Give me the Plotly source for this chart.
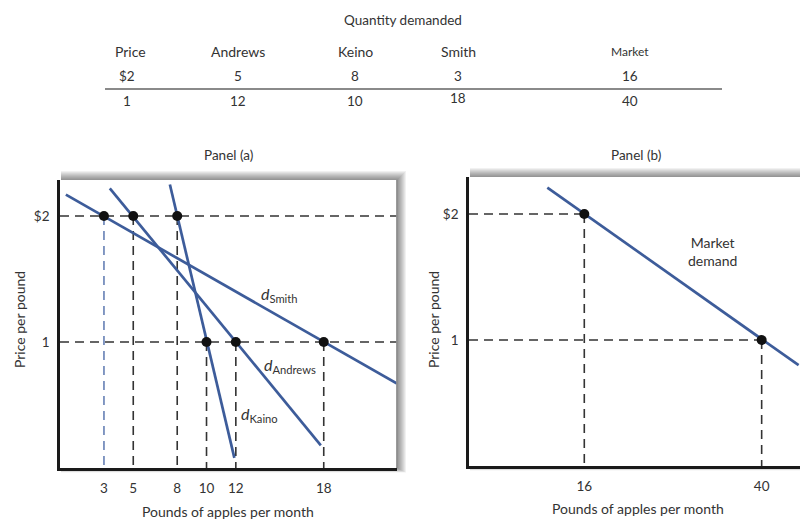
import plotly.graph_objects as go

# The page body has an 8px margin, so the figure is drawn 8px in from the corner.
OFF = 8
W, H = 808 - OFF, 520 - OFF
def px(x):
    return (x - OFF) / W
def py(y):
    return 1 - (y - OFF) / H

# ---------------- data ----------------
prices = [2, 1]
andrews = [5, 12]
keino = [8, 10]
smith = [3, 18]
market = [16, 40]

table_cols = ["Price", "Andrews", "Keino", "Smith", "Market"]
row_top = ["$2", "5", "8", "3", "16"]
row_bottom = ["1", "12", "10", "18", "40"]

# drawn extent of the demand curves (quantity, price)
smith_line_q = [0.4, 23.0]
smith_line_p = [2.17, 0.67]
andrews_line_q = [3.4, 17.8]
andrews_line_p = [2.22, 0.18]
kaino_line_q = [7.5, 11.9]
kaino_line_p = [2.25, 0.08]
market_line_q = [11.0, 45.0]
market_line_p = [2.21, 0.80]

a_ticks = [3, 5, 8, 10, 12, 18]
b_ticks = [16, 40]
price_ticktext = ["$2", "1"]

# ---------------- style ----------------
FONT = "Lato"
TXT = "#333333"
BLUE = "#3d5c9a"
DASH = "#333333"
DASHPAT = "9px,6px"

fig = go.Figure()

# ---- Panel (a) dashed guide lines ----
for p in prices:
    fig.add_trace(go.Scatter(x=[0, 23], y=[p, p], mode="lines",
                             line=dict(color=DASH, width=1.6, dash=DASHPAT),
                             xaxis="x", yaxis="y", hoverinfo="skip"))
for qs in (smith, andrews, keino):
    for q, p in zip(qs, prices):
        col = "#6680b5" if (q == 3) else DASH
        fig.add_trace(go.Scatter(x=[q, q], y=[p, 0], mode="lines",
                                 line=dict(color=col, width=1.6, dash=DASHPAT),
                                 xaxis="x", yaxis="y", hoverinfo="skip"))

# ---- Panel (a) demand curves ----
for lq, lp in ((smith_line_q, smith_line_p), (andrews_line_q, andrews_line_p),
               (kaino_line_q, kaino_line_p)):
    fig.add_trace(go.Scatter(x=lq, y=lp, mode="lines",
                             line=dict(color=BLUE, width=2.7),
                             xaxis="x", yaxis="y", hoverinfo="skip"))

# ---- Panel (a) points ----
pts_q = smith + andrews + keino
pts_p = prices * 3
fig.add_trace(go.Scatter(x=pts_q, y=pts_p, mode="markers",
                         marker=dict(color="#111111", size=10),
                         xaxis="x", yaxis="y", hoverinfo="skip"))

# ---- Panel (b) dashed guide lines ----
for q, p in zip(market, prices):
    fig.add_trace(go.Scatter(x=[0.4, q], y=[p, p], mode="lines",
                             line=dict(color=DASH, width=1.6, dash=DASHPAT),
                             xaxis="x2", yaxis="y2", hoverinfo="skip"))
    fig.add_trace(go.Scatter(x=[q, q], y=[p, 0], mode="lines",
                             line=dict(color=DASH, width=1.6, dash=DASHPAT),
                             xaxis="x2", yaxis="y2", hoverinfo="skip"))

fig.add_trace(go.Scatter(x=market_line_q, y=market_line_p, mode="lines",
                         line=dict(color=BLUE, width=2.7),
                         xaxis="x2", yaxis="y2", hoverinfo="skip"))
fig.add_trace(go.Scatter(x=market, y=prices, mode="markers",
                         marker=dict(color="#111111", size=10),
                         xaxis="x2", yaxis="y2", hoverinfo="skip"))

# ---------------- axes ----------------
axis_common = dict(showgrid=False, zeroline=False, showline=True,
                   linecolor="#1a1a1a", linewidth=2.6, ticks="",
                   tickfont=dict(family=FONT, size=13.5, color=TXT),
                   fixedrange=True)

fig.update_layout(
    width=W, height=H,
    margin=dict(l=0, r=0, t=0, b=0),
    paper_bgcolor="white", plot_bgcolor="rgba(0,0,0,0)",
    showlegend=False,
    xaxis=dict(domain=[px(60), px(397)], range=[0, 23], anchor="y",
               tickvals=a_ticks, ticktext=[str(v) for v in a_ticks],
               ticklabelstandoff=6, **axis_common),
    yaxis=dict(domain=[py(468), py(180)], range=[0, 2.286], anchor="x",
               tickvals=prices, ticktext=price_ticktext,
               ticklabelstandoff=5, **axis_common),
    xaxis2=dict(domain=[px(469), px(806)], range=[0.4, 46], anchor="y2",
                tickvals=b_ticks, ticktext=[str(v) for v in b_ticks],
                ticklabelstandoff=6, **axis_common),
    yaxis2=dict(domain=[py(466), py(177)], range=[0, 2.294], anchor="x2",
                tickvals=prices, ticktext=price_ticktext,
                ticklabelstandoff=5, **axis_common),
)

# ---------------- box shadows ----------------
shapes = []
for (x0, x1, yt, yb) in ((60, 397, 180, 468), (469, 806, 177, 466)):
    for k in range(1, 10):
        shapes.append(dict(type="rect", xref="paper", yref="paper", layer="below",
                           x0=px(x0 + 1), x1=px(x1 + k), y0=py(yb + k * 0.5), y1=py(yt - k),
                           fillcolor="rgba(0,0,0,0.055)", line=dict(width=0)))
    shapes.append(dict(type="rect", xref="paper", yref="paper", layer="below",
                       x0=px(x0), x1=px(x1), y0=py(yb), y1=py(yt),
                       fillcolor="white", line=dict(width=0)))
for xr, yr in (("x domain", "y domain"), ("x2 domain", "y2 domain")):
    shapes.append(dict(type="line", xref=xr, yref=yr, x0=1, x1=1, y0=0, y1=1,
                       line=dict(color="#8f8f8f", width=1.8)))
# table rule
shapes.append(dict(type="line", xref="paper", yref="paper", x0=px(105), x1=px(722),
                   y0=py(89), y1=py(89), line=dict(color="#8a8a8a", width=2)))
fig.update_layout(shapes=shapes)

# ---------------- text ----------------
ann = []
def text(x, y, s, size=13, xanchor="center", yanchor="middle", angle=0, color=TXT):
    ann.append(dict(x=px(x), y=py(y), xref="paper", yref="paper", text=s,
                    showarrow=False, xanchor=xanchor, yanchor=yanchor, textangle=angle,
                    font=dict(family=FONT, size=size, color=color)))

text(403, 20, "Quantity demanded", size=13.5)
col_x = [130, 238, 355, 458, 630]
for i, (c, a, b) in enumerate(zip(table_cols, row_top, row_bottom)):
    text(col_x[i], 51, c, size=12 if c == "Market" else 14)
    text(col_x[i] - (3 if i == 0 else 0), 76, a, size=13.5)
    text(col_x[i] - (3 if i == 0 else 0), 101 if i != 3 else 98, b, size=13.5)

text(228, 155, "Panel (a)", size=13.5)
text(636, 155, "Panel (b)", size=13.5)
text(19, 320, "Price per pound", size=14, angle=-90)
text(433, 320, "Price per pound", size=14, angle=-90)
text(228, 511, "Pounds of apples per month", size=14)
text(638, 508, "Pounds of apples per month", size=14)

text(259, 294, "<i>d</i><sub>Smith</sub>", size=16, xanchor="left")
text(262, 365, "<i>d</i><sub>Andrews</sub>", size=16, xanchor="left")
text(239, 414, "<i>d</i><sub>Kaino</sub>", size=16, xanchor="left")
text(686, 251, "Market<br>demand", size=14, xanchor="left")

fig.update_layout(annotations=ann)

fig.write_html("out.html")
